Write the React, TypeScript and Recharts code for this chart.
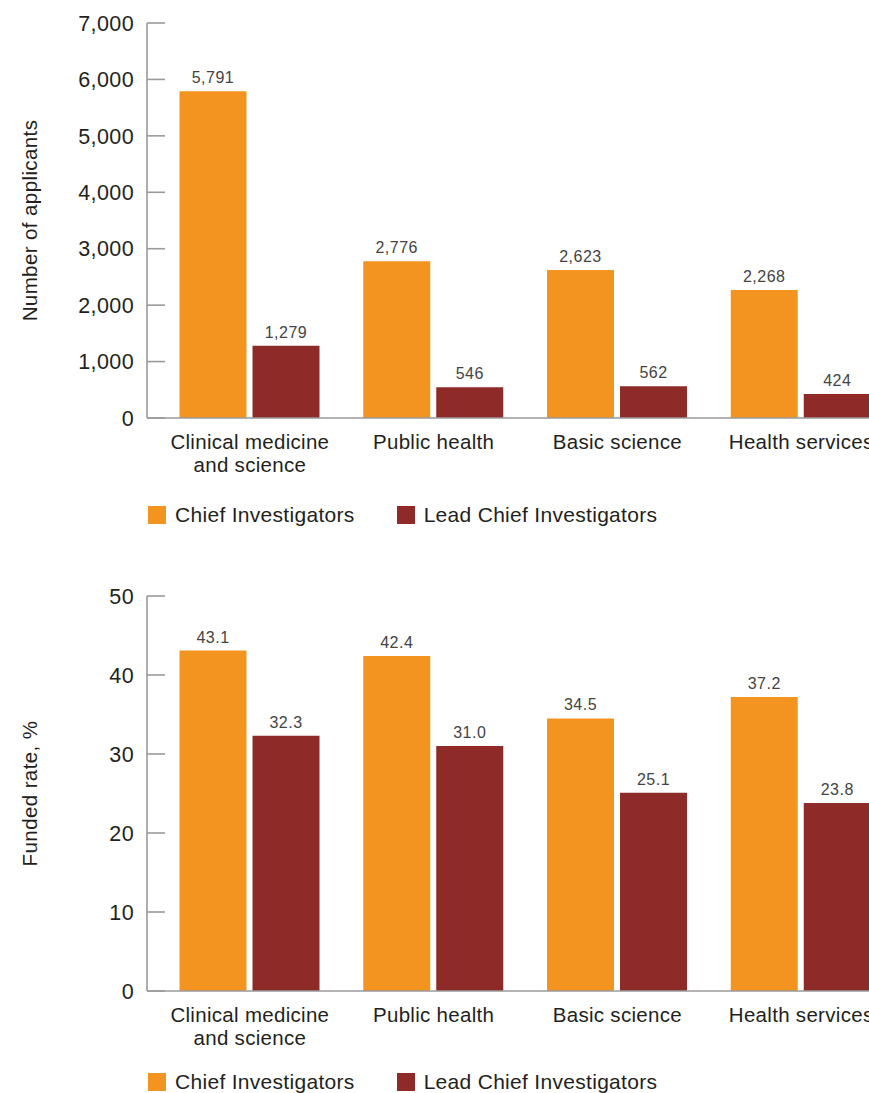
import React from 'react';
import { BarChart, Bar, XAxis, YAxis, LabelList, Legend } from 'recharts';

const categories = ['Clinical medicine\nand science', 'Public health', 'Basic science', 'Health services'];
const seriesNames = ['Chief Investigators', 'Lead Chief Investigators'];
const applicantsChief = [5791, 2776, 2623, 2268];
const applicantsLead = [1279, 546, 562, 424];
const rateChief = [43.1, 42.4, 34.5, 37.2];
const rateLead = [32.3, 31.0, 25.1, 23.8];
const applicantTicks = [0, 1000, 2000, 3000, 4000, 5000, 6000, 7000];
const rateTicks = [0, 10, 20, 30, 40, 50];

const ORANGE = '#F49420';
const RED = '#8E2A28';
const TEXT = '#231F20';
const AXIS = '#9A9A9A';
const FONT = '"Liberation Sans", Arial, sans-serif';

const applicantsData = categories.map((c, i) => ({ category: c, chief: applicantsChief[i], lead: applicantsLead[i] }));
const rateData = categories.map((c, i) => ({ category: c, chief: rateChief[i], lead: rateLead[i] }));

const fmtThousands = (v: any) => Number(v).toLocaleString('en-US');
const fmtOne = (v: any) => Number(v).toFixed(1);

const YTick = (props: any) => {
  const { x, y, payload, formatter } = props;
  return (
    <g>
      <line x1={x} x2={x + 18} y1={y} y2={y} stroke={AXIS} strokeWidth={1.6} />
      <text x={x - 13} y={y} dy="0.36em" textAnchor="end" fill={TEXT} fontSize={21.5} fontFamily={FONT} letterSpacing={0.4}>
        {formatter(payload.value)}
      </text>
    </g>
  );
};

const XTick = (props: any) => {
  const { x, y, payload } = props;
  const lines = String(payload.value).split('\n');
  return (
    <text x={x} y={y} textAnchor="middle" fill={TEXT} fontSize={20.5} fontFamily={FONT} letterSpacing={0.3}>
      {lines.map((l, i) => (
        <tspan key={i} x={x} dy={i === 0 ? 31 : 23}>{l}</tspan>
      ))}
    </text>
  );
};

const yLabel = (text: string) => ({
  content: (p: any) => {
    const vb = p.viewBox || {};
    const cx = (vb.x || 0) + 29.5;
    const cy = (vb.y || 0) + (vb.height || 0) / 2;
    return (
      <text x={cx} y={cy} dy="0.36em" textAnchor="middle" transform={`rotate(-90 ${cx} ${cy})`} fill={TEXT} fontSize={20.5} fontFamily={FONT} letterSpacing={0.4}>
        {text}
      </text>
    );
  },
});

const LegendContent = () => {
  const colors = [ORANGE, RED];
  return (
    <div style={{ height: 30, display: 'flex', alignItems: 'center', paddingLeft: 148, fontFamily: FONT, fontSize: 21, letterSpacing: 0.3, color: TEXT, whiteSpace: 'nowrap' }}>
      {seriesNames.map((n, i) => (
        <div key={n} style={{ display: 'flex', alignItems: 'center', marginLeft: i === 0 ? 0 : 42 }}>
          <div style={{ width: 18, height: 18, background: colors[i], marginRight: 9 }} />
          <span style={{ lineHeight: '30px' }}>{n}</span>
        </div>
      ))}
    </div>
  );
};

const Chart = ({ data, ticks, domain, fmtTick, fmtLabel, label, marginTop, xHeight }: any) => (
  <BarChart
    width={910}
    height={marginTop + 395 + xHeight + 30}
    data={data}
    margin={{ top: marginTop, right: 6, bottom: 0, left: 0 }}
    barCategoryGap={21.5}
    barGap={6}
  >
    <XAxis
      dataKey="category"
      axisLine={{ stroke: AXIS, strokeWidth: 1.6 }}
      tickLine={false}
      tickSize={0}
      tickMargin={0}
      height={xHeight}
      interval={0}
      padding={{ left: 11, right: 11 }}
      tick={<XTick />}
    />
    <YAxis
      width={147}
      domain={domain}
      ticks={ticks}
      interval={0}
      axisLine={{ stroke: AXIS, strokeWidth: 1.6 }}
      tickLine={false}
      tickSize={0}
      tickMargin={0}
      tick={<YTick formatter={fmtTick} />}
      label={yLabel(label)}
    />
    <Legend verticalAlign="bottom" align="left" height={30} content={<LegendContent />} />
    <Bar dataKey="chief" name={seriesNames[0]} fill={ORANGE} isAnimationActive={false}>
      <LabelList dataKey="chief" position="top" offset={8} formatter={fmtLabel} fill="#444" fontSize={16} fontFamily={FONT} letterSpacing={0.5} />
    </Bar>
    <Bar dataKey="lead" name={seriesNames[1]} fill={RED} isAnimationActive={false}>
      <LabelList dataKey="lead" position="top" offset={8} formatter={fmtLabel} fill="#444" fontSize={16} fontFamily={FONT} letterSpacing={0.5} />
    </Bar>
  </BarChart>
);

export default function App() {
  return (
    <div style={{ position: 'fixed', left: 0, top: 0, width: 869, height: 1093, overflow: 'hidden', background: '#fff' }}>
      <div style={{ position: 'absolute', left: 0, top: 0 }}>
        <Chart data={applicantsData} ticks={applicantTicks} domain={[0, 7000]} fmtTick={fmtThousands} fmtLabel={fmtThousands} label="Number of applicants" marginTop={23} xHeight={82} />
      </div>
      <div style={{ position: 'absolute', left: 0, top: 573 }}>
        <Chart data={rateData} ticks={rateTicks} domain={[0, 50]} fmtTick={(v: any) => String(v)} fmtLabel={fmtOne} label="Funded rate, %" marginTop={23} xHeight={76} />
      </div>
    </div>
  );
}
